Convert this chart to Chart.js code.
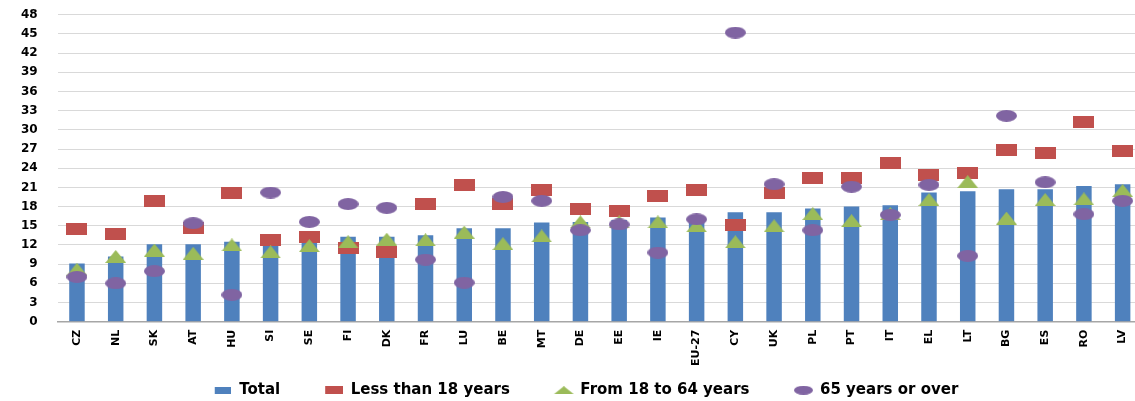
<!DOCTYPE html>
<html>
<head>
<meta charset="utf-8">
<script src="https://cdn.jsdelivr.net/npm/chart.js@4.4.1/dist/chart.umd.min.js"></script>
<style>
  html, body { margin: 0; padding: 0; background: #ffffff; overflow: hidden; }
  #wrap { position: relative; width: 1150px; height: 401px; }
</style>
</head>
<body>
<div id="wrap"><canvas id="chart"></canvas></div>
<script>
// At-risk-of-poverty rate (%) by age group
const countries = ['CZ','NL','SK','AT','HU','SI','SE','FI','DK','FR','LU','BE','MT','DE',
                   'EE','IE','EU-27','CY','UK','PL','PT','IT','EL','LT','BG','ES','RO','LV'];

const total      = [9.1, 10.2, 12.1, 12.1, 12.5, 12.7, 12.9, 13.3, 13.3, 13.5, 14.6, 14.6, 15.5, 15.6,
                    15.9, 16.3, 16.2, 17.1, 17.1, 17.7, 18.0, 18.2, 20.2, 20.4, 20.7, 20.7, 21.2, 21.5];
const under18    = [14.5, 13.7, 18.9, 14.6, 20.2, 12.7, 13.2, 11.5, 10.9, 18.4, 21.4, 18.4, 20.6, 17.6,
                    17.3, 19.7, 20.6, 15.1, 20.2, 22.5, 22.4, 24.8, 23.0, 23.3, 26.8, 26.3, 31.3, 26.7];
const age18to64  = [8.2, 10.2, 11.2, 10.7, 12.0, 10.9, 11.9, 12.5, 12.9, 12.8, 14.0, 12.2, 13.4, 15.6,
                    15.6, 15.6, 15.0, 12.5, 15.0, 16.9, 15.8, 16.9, 19.1, 21.9, 16.2, 19.1, 19.2, 20.5];
const age65plus  = [7.0, 6.0, 7.9, 15.4, 4.2, 20.2, 15.6, 18.4, 17.8, 9.7, 6.1, 19.5, 18.9, 14.3,
                    15.2, 10.8, 16.0, 45.2, 21.5, 14.3, 21.1, 16.7, 21.4, 10.3, 32.2, 21.8, 16.8, 18.9];

const yTickValues = [0, 3, 6, 9, 12, 15, 18, 21, 24, 27, 30, 33, 36, 39, 42, 45, 48];
const seriesNames = ['Total', 'Less than 18 years', 'From 18 to 64 years', '65 years or over'];

const BLUE = '#4F81BD', RED = '#C0504D', GREEN = '#9BBB59', PURPLE = '#8064A2';

// Small bitmap markers; `lead` adds blank space on the left (used for legend spacing)
function makeMarker(shape, w, h, color, lead) {
  lead = lead || 0;
  const c = document.createElement('canvas');
  c.width = w + lead; c.height = h;
  const g = c.getContext('2d');
  g.fillStyle = color;
  g.beginPath();
  if (shape === 'rect') {
    g.rect(lead, 0, w, h);
  } else if (shape === 'triangle') {
    g.moveTo(lead + w / 2, 0); g.lineTo(lead + w, h); g.lineTo(lead, h); g.closePath();
  } else {
    g.ellipse(lead + w / 2, h / 2, w / 2, h / 2, 0, 0, Math.PI * 2);
  }
  g.fill();
  return c;
}

const pointRect     = makeMarker('rect', 21, 12, RED);
const pointTriangle = makeMarker('triangle', 21, 13, GREEN);
const pointEllipse  = makeMarker('ellipse', 21, 12, PURPLE);

const LEGEND_LEAD = 30;
const legendIcons = [
  makeMarker('rect', 16, 7, BLUE, LEGEND_LEAD),
  makeMarker('rect', 18, 8, RED, LEGEND_LEAD),
  makeMarker('triangle', 20, 8, GREEN, LEGEND_LEAD),
  makeMarker('ellipse', 19, 9, PURPLE, LEGEND_LEAD)
];

Chart.defaults.font.family = '"DejaVu Sans", "Liberation Sans", sans-serif';
Chart.defaults.color = '#000000';

new Chart(document.getElementById('chart'), {
  type: 'bar',
  data: {
    labels: countries,
    datasets: [
      { label: seriesNames[0], data: total, backgroundColor: BLUE, order: 4,
        categoryPercentage: 1.0, barPercentage: 0.4 },
      { type: 'line', label: seriesNames[1], data: under18, showLine: false, order: 3,
        pointStyle: pointRect, pointRadius: 6, backgroundColor: RED, borderColor: RED },
      { type: 'line', label: seriesNames[2], data: age18to64, showLine: false, order: 2,
        pointStyle: pointTriangle, pointRadius: 6, backgroundColor: GREEN, borderColor: GREEN },
      { type: 'line', label: seriesNames[3], data: age65plus, showLine: false, order: 1,
        pointStyle: pointEllipse, pointRadius: 6, backgroundColor: PURPLE, borderColor: PURPLE }
    ]
  },
  options: {
    responsive: true,
    maintainAspectRatio: false,
    animation: false,
    layout: { padding: { left: 0, right: 8, top: 14.7, bottom: 0 } },
    scales: {
      x: {
        offset: true,
        grid: { display: false, drawTicks: false },
        border: { display: true, color: '#A6A6A6', width: 1.5 },
        ticks: {
          autoSkip: false, minRotation: 90, maxRotation: 90, padding: 8,
          font: { size: 11, weight: 'bold' }
        },
        afterFit: s => { s.height = 46; }
      },
      y: {
        min: 0, max: 48,
        afterBuildTicks: s => { s.ticks = yTickValues.map(v => ({ value: v })); },
        grid: { color: '#D9D9D9', lineWidth: 1, drawTicks: true, tickLength: 17,
                tickColor: 'rgba(0,0,0,0)' },
        border: { display: false },
        ticks: { padding: 3, font: { size: 12, weight: 'bold' } },
        afterFit: s => { s.width = 57.6; }
      }
    },
    plugins: {
      tooltip: { enabled: false },
      legend: {
        position: 'bottom',
        maxHeight: 33.3,
        labels: {
          usePointStyle: true,
          pointStyleWidth: 18 + LEGEND_LEAD,
          padding: 15,
          font: { size: 15, weight: 'bold' },
          generateLabels: chart => {
            const items = Chart.defaults.plugins.legend.labels.generateLabels(chart);
            items.sort((a, b) => a.datasetIndex - b.datasetIndex);
            items.forEach(it => { it.pointStyle = legendIcons[it.datasetIndex]; it.lineWidth = 0; });
            return items;
          }
        }
      }
    }
  }
});
</script>
</body>
</html>
